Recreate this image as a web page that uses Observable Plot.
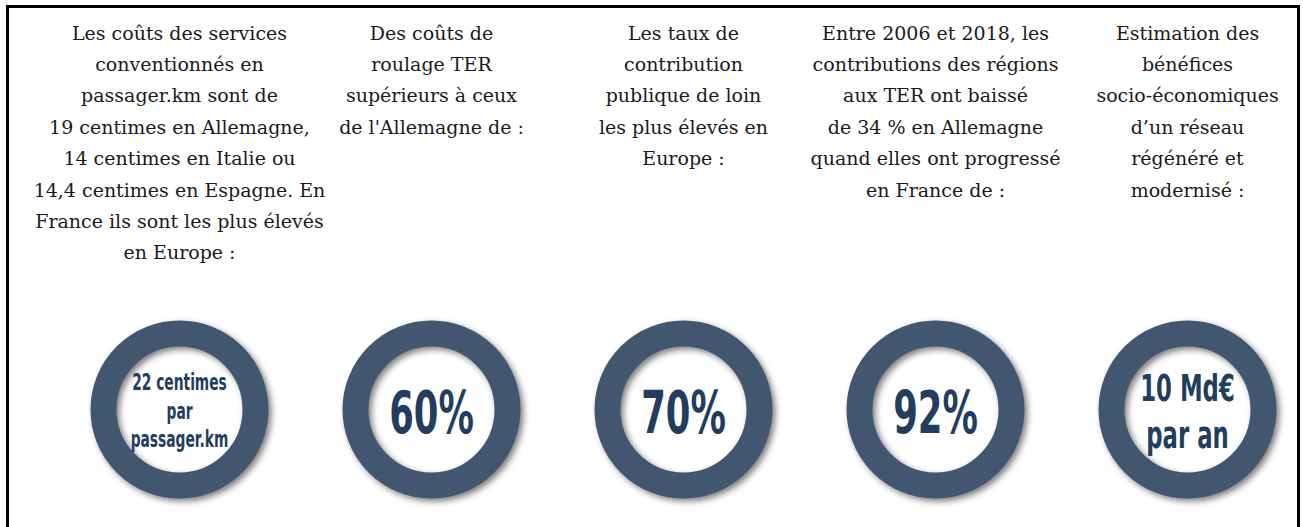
<!DOCTYPE html>
<html><head><meta charset="utf-8">
<script src="https://cdn.jsdelivr.net/npm/d3@7"></script>
<script src="https://cdn.jsdelivr.net/npm/@observablehq/plot@0.6"></script>
<style>
html,body{margin:0;padding:0;background:#fff;overflow:hidden}
#cadre{position:absolute;left:6px;top:5px;width:1288px;height:560px;border:3px solid #000;box-sizing:content-box}
#cadre svg{display:block;background:transparent}
</style></head><body><div id="cadre"></div>
<script>
const colonnes = ["coûts", "roulage", "contribution", "régions", "bénéfices"];
const textes = [
  "Les coûts des services\nconventionnés en\npassager.km sont de\n19 centimes en Allemagne,\n14 centimes en Italie ou\n14,4 centimes en Espagne. En\nFrance ils sont les plus élevés\nen Europe :",
  "Des coûts de\nroulage TER\nsupérieurs à ceux\nde l'Allemagne de :",
  "Les taux de\ncontribution\npublique de loin\nles plus élevés en\nEurope :",
  "Entre 2006 et 2018, les\ncontributions des régions\naux TER ont baissé\nde 34 % en Allemagne\nquand elles ont progressé\nen France de :",
  "Estimation des\nbénéfices\nsocio-économiques\nd’un réseau\nrégénéré et\nmodernisé :"
];
const valeurs = ["22 centimes\npar\npassager.km", "60%", "70%", "92%", "10 Md€\npar an"];
const rangees = ["en-tête", "anneau"];

const nbLignes = (i) => valeurs[i].split("\n").length;

const plot = Plot.plot({
  width: 1288,
  height: 527,
  marginLeft: 169,
  marginRight: 109,
  marginTop: 9,
  marginBottom: 126,
  style: {background: "transparent", overflow: "visible"},
  x: {type: "point", domain: colonnes, padding: 0, axis: null},
  y: {type: "point", domain: rangees, padding: 0, axis: null},
  marks: [
    Plot.text(colonnes, {
      x: d => d,
      y: () => "en-tête",
      text: (d, i) => textes[i],
      lineAnchor: "top",
      lineHeight: 1.65,
      fontSize: 19,
      fontFamily: "'Palatino Linotype', 'Book Antiqua', 'DejaVu Serif', serif",
      fill: "#1a1a1a"
    }),
    Plot.dot(colonnes, {
      x: d => d,
      y: () => "anneau",
      r: 76,
      fill: "none",
      stroke: "#42566f",
      strokeWidth: 26
    }),
    Plot.text(colonnes, {
      x: d => d,
      y: () => "anneau",
      text: (d, i) => valeurs[i],
      lineAnchor: "middle",
      lineHeight: 1.25,
      fontSize: (d, i) => nbLignes(i) === 3 ? 23 : nbLignes(i) === 2 ? 38 : 59,
      fontWeight: "bold",
      fontFamily: "'Agency FB', 'DejaVu Sans', sans-serif",
      fill: "#233d5e"
    })
  ]
});

const groupesDots = plot.querySelectorAll('g[aria-label="dot"]');
groupesDots.forEach(g => g.style.filter = "drop-shadow(3px 3px 3px rgba(0,0,0,0.5))");
const groupesTextes = plot.querySelectorAll('g[aria-label="text"]');
const etiquettes = groupesTextes[groupesTextes.length - 1];
etiquettes.querySelectorAll("text").forEach(t => {
  const tr = t.getAttribute("transform") || "";
  t.setAttribute("transform", tr + " scale(0.6,1)");
});
document.getElementById("cadre").appendChild(plot);
</script></body></html>
